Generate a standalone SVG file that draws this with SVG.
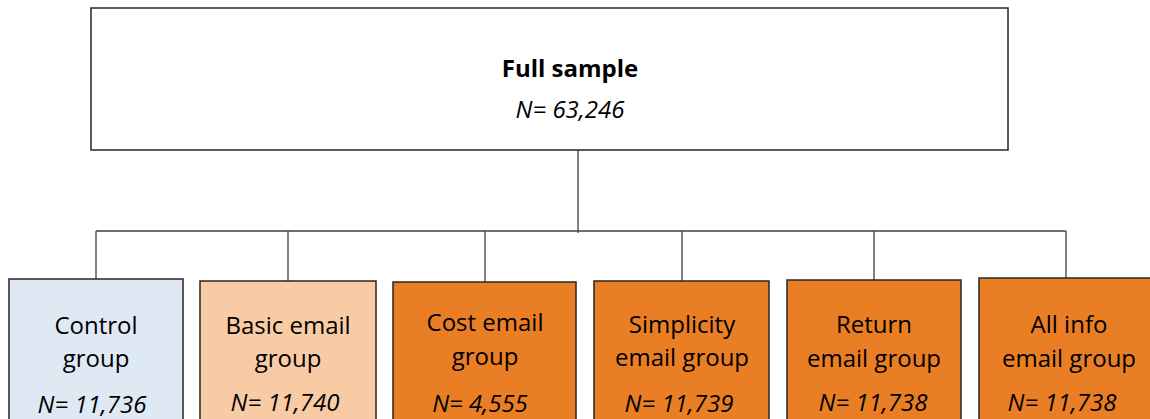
<svg xmlns="http://www.w3.org/2000/svg" width="1150" height="419" viewBox="0 0 1150 419">
<style>
.box{stroke:#262626;stroke-width:1.5}
.blue{fill:#DFE9F4}
.peach{fill:#F9CBA5}
.orange{fill:#E97E24}
.t{font-family:"Open Sans","Liberation Sans",sans-serif;font-size:24px;fill:#000;text-anchor:middle}
.n{font-style:italic}
.conn{stroke:#404040;stroke-width:1.3;fill:none}
</style>
<rect width="1150" height="419" fill="#fff"/>
<g id="connectors">
<path class="conn" d="M578 150 V233"/>
<path class="conn" d="M96 231 H1066"/>
<path class="conn" d="M96 231 V279 M288 231 V281 M485 231 V282 M682 231 V281 M874 231 V280 M1066 231 V278"/>
</g>
<g id="full-sample">
<rect class="box" x="91" y="8" width="917" height="142" fill="#fff"/>
<text class="t" x="570" y="77" font-weight="bold" font-size="23">Full sample</text>
<text class="t n" x="570" y="118" font-size="22">N= 63,246</text>
</g>
<g id="control">
<rect class="box blue" x="9" y="279" width="174" height="150"/>
<text class="t" x="96" y="334">Control</text>
<text class="t" x="96" y="367">group</text>
<text class="t n" x="92" y="413">N= 11,736</text>
</g>
<g id="basic">
<rect class="box peach" x="200" y="281" width="176" height="150"/>
<text class="t" x="288" y="334">Basic email</text>
<text class="t" x="288" y="367">group</text>
<text class="t n" x="285" y="411">N= 11,740</text>
</g>
<g id="cost">
<rect class="box orange" x="393" y="282" width="183" height="150"/>
<text class="t" x="485" y="331">Cost email</text>
<text class="t" x="485" y="365">group</text>
<text class="t n" x="480" y="412">N= 4,555</text>
</g>
<g id="simplicity">
<rect class="box orange" x="594" y="281" width="175" height="150"/>
<text class="t" x="682" y="333">Simplicity</text>
<text class="t" x="682" y="366">email group</text>
<text class="t n" x="679" y="412">N= 11,739</text>
</g>
<g id="return">
<rect class="box orange" x="787" y="280" width="174" height="150"/>
<text class="t" x="874" y="333">Return</text>
<text class="t" x="874" y="367">email group</text>
<text class="t n" x="873" y="411">N= 11,738</text>
</g>
<g id="all-info">
<rect class="box orange" x="979" y="278" width="180" height="150"/>
<text class="t" x="1069" y="333">All info</text>
<text class="t" x="1069" y="367">email group</text>
<text class="t n" x="1062" y="411">N= 11,738</text>
</g>
</svg>
